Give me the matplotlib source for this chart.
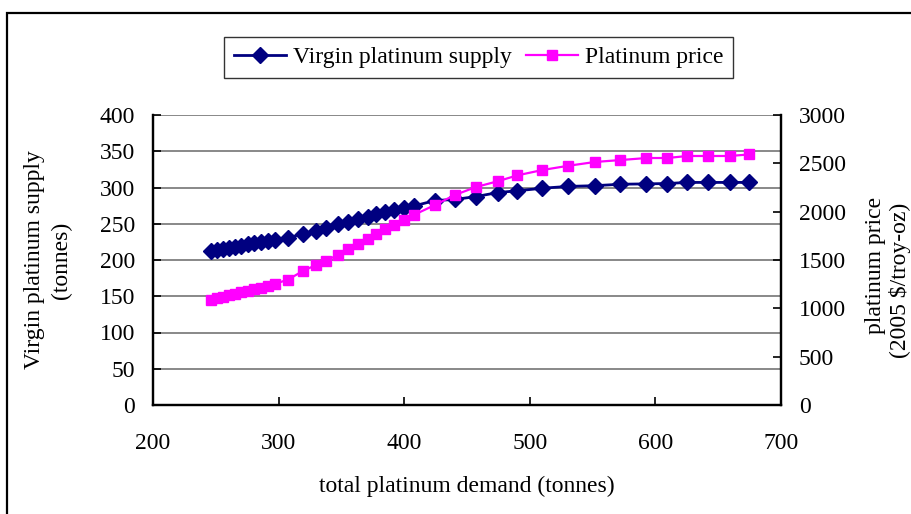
import matplotlib
matplotlib.use("Agg")
import matplotlib.pyplot as plt
from matplotlib.patches import Rectangle
from matplotlib.lines import Line2D

plt.rcParams['font.family'] = ['Liberation Serif', 'DejaVu Serif']

demand = [246.2, 251.0, 255.7, 260.5, 265.3, 270.1, 275.6, 280.4, 286.0, 291.6, 297.1,
          307.5, 319.8, 329.8, 338.1, 346.9, 355.3, 363.2, 371.2, 377.5, 384.7, 392.1,
          399.8, 407.6, 424.5, 440.2, 457.2, 474.3, 490.2, 510.1, 530.2, 551.9, 572.2,
          592.9, 609.6, 625.2, 641.9, 659.0, 674.9]
supply = [212, 214, 215.5, 217, 218.5, 220, 221.5, 223, 224.5, 226, 228,
          231, 236, 240.5, 244, 249.5, 252.5, 256, 260, 264, 266.5, 268.5,
          271.5, 274.5, 282, 283.5, 287.5, 293, 295.5, 299, 301.5, 302.5, 304.5,
          305, 305.5, 307, 307, 307, 307]
price = [1086, 1102, 1117, 1133, 1148, 1169, 1184, 1200, 1215, 1236, 1252,
         1298, 1389, 1448, 1493, 1552, 1609, 1666, 1717, 1769, 1818, 1865,
         1911, 1966, 2069, 2172, 2255, 2314, 2376, 2431, 2474, 2514, 2534,
         2555, 2555, 2576, 2576, 2576, 2592]

x_ticks = [200, 300, 400, 500, 600, 700]
left_ticks = [0, 50, 100, 150, 200, 250, 300, 350, 400]
right_ticks = [0, 500, 1000, 1500, 2000, 2500, 3000]

W, H = 912, 514
fig = plt.figure(figsize=(W / 100, H / 100), dpi=100)
FS = 17

# outer chart border
fig.patches.append(Rectangle((7 / W, -0.05), 1.2, 1 - 13 / H + 0.05, transform=fig.transFigure,
                             fill=False, edgecolor='black', linewidth=1.6))

L, R, T, B = 153, 781, 115, 405
ax = fig.add_axes([L / W, 1 - B / H, (R - L) / W, (B - T) / H])
ax2 = ax.twinx()

navy = '#000080'
mag = '#FF00FF'

ax.plot(demand, supply, color=navy, lw=2, marker='D', ms=8.5, mec=navy, mfc=navy, zorder=3)
ax2.plot(demand, price, color=mag, lw=1.6, marker='s', ms=7.5, mec=mag, mfc=mag, zorder=3)

ax.set_xlim(200, 700)
ax.set_ylim(0, 400)
ax2.set_ylim(0, 3000)
ax.set_xticks(x_ticks)
ax.set_yticks(left_ticks)
ax2.set_yticks(right_ticks)

for a in (ax, ax2):
    a.tick_params(labelsize=FS, direction='in', length=6, width=1.2)
    a.spines['top'].set_visible(False)
    for s in ('left', 'right', 'bottom'):
        a.spines[s].set_linewidth(1.6)
        a.spines[s].set_color('black')
ax.tick_params(axis='x', pad=20)
ax.tick_params(axis='y', pad=13)
ax2.tick_params(axis='y', pad=13)
ax.grid(axis='y', color='#7f7f7f', lw=1.3)
ax.set_axisbelow(True)

ax.set_xlabel('total platinum demand (tonnes)', fontsize=FS, labelpad=16)

fig.text(35 / W, 1 - 260 / H, 'Virgin platinum supply', rotation=90, ha='center', va='center', fontsize=FS)
fig.text(61 / W, 1 - 260 / H, '(tonnes)', rotation=90, ha='center', va='center', fontsize=FS)
fig.text(876 / W, 1 - 265 / H, 'platinum price', rotation=90, ha='center', va='center', fontsize=FS)
fig.text(900 / W, 1 - 280 / H, '(2005 $/troy-oz)', rotation=90, ha='center', va='center', fontsize=FS)

h1 = Line2D([], [], color=navy, lw=2, marker='D', ms=8.5, mfc=navy, mec=navy)
h2 = Line2D([], [], color=mag, lw=1.6, marker='s', ms=7.5, mfc=mag, mec=mag)
leg = fig.legend([h1, h2], ['Virgin platinum supply', 'Platinum price'], ncol=2,
                 loc='center', bbox_to_anchor=(478.5 / W, 1 - 57.5 / H), fontsize=FS,
                 frameon=True, fancybox=False, handlelength=2.2, handletextpad=0.3,
                 columnspacing=0.6, borderpad=0.4, borderaxespad=0)
leg.get_frame().set_edgecolor('black')
leg.get_frame().set_linewidth(1.0)

fig.savefig('out.png', dpi=100)
